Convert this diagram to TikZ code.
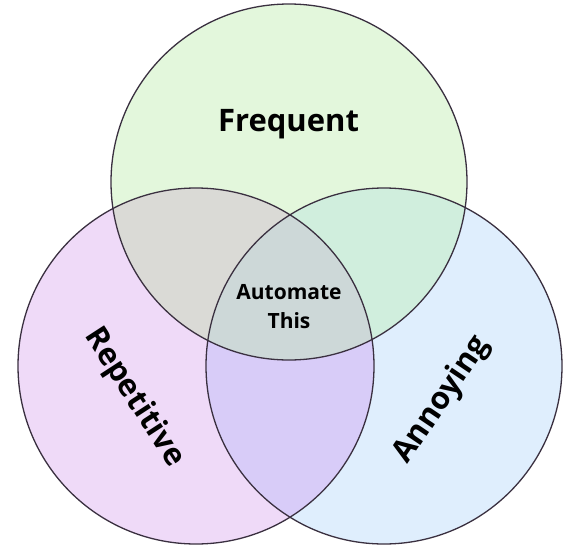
\documentclass[tikz,border=0pt]{standalone}
\usepackage{fontspec}
\setmainfont{Open Sans}
\definecolor{cF}{HTML}{E3F7DC}
\definecolor{cR}{HTML}{EFDAF8}
\definecolor{cA}{HTML}{DFEEFD}
\definecolor{cFR}{HTML}{DADAD6}
\definecolor{cFA}{HTML}{D0EEDD}
\definecolor{cRA}{HTML}{D8CCF8}
\definecolor{cFRA}{HTML}{CDD8D8}
\definecolor{edge}{HTML}{3A3040}
\begin{document}
\begin{tikzpicture}[x=1pt,y=-1pt,
  ring/.style={draw=edge,line width=1.3pt},
  lbl/.style={font=\bfseries\fontsize{31}{36}\selectfont,text=black},
  mid/.style={font=\bfseries\fontsize{21}{29}\selectfont,align=center,text=black}]
\useasboundingbox (0,0) rectangle (579,560);
\coordinate (F) at (289,182);
\coordinate (R) at (196,366);
\coordinate (A) at (384,366);
\def\rad{178}
\fill[cF] (F) circle (\rad);
\fill[cR] (R) circle (\rad);
\fill[cA] (A) circle (\rad);
\begin{scope}\clip (F) circle (\rad); \fill[cFR] (R) circle (\rad); \end{scope}
\begin{scope}\clip (F) circle (\rad); \fill[cFA] (A) circle (\rad); \end{scope}
\begin{scope}\clip (R) circle (\rad); \fill[cRA] (A) circle (\rad); \end{scope}
\begin{scope}\clip (F) circle (\rad); \clip (R) circle (\rad); \fill[cFRA] (A) circle (\rad); \end{scope}
\draw[ring] (F) circle (\rad);
\draw[ring] (R) circle (\rad);
\draw[ring] (A) circle (\rad);
\node[lbl] (tF) at (288.5,124) {Frequent};
\node[lbl,rotate=-57] (tR) at (134,398) {Repetitive};
\node[lbl,rotate=56] (tA) at (442,400) {Annoying};
\node[mid] (tC) at (289,307) {Automate\\This};
\end{tikzpicture}
\end{document}
